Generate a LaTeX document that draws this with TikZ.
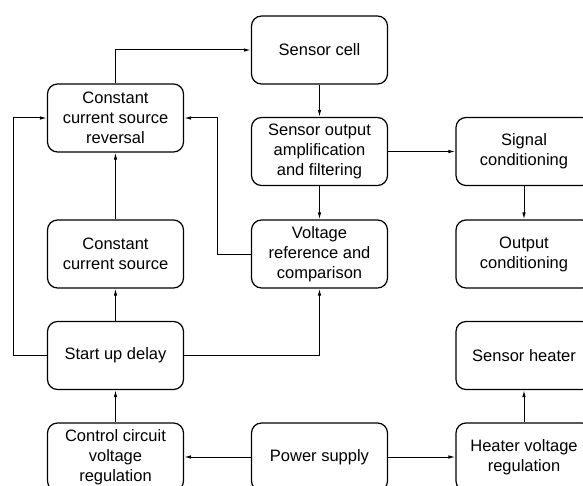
\documentclass[tikz,border=0pt]{standalone}
\usepackage{fontspec}
\setmainfont{Liberation Sans}
\usetikzlibrary{arrows.meta}
\begin{document}
\begin{tikzpicture}[x=1pt,y=-1pt,
  blk/.style={draw,line width=1.2pt,rounded corners=10pt,minimum width=136pt,minimum height=68pt,
    align=center,inner sep=0pt,font=\fontsize{16.5}{20}\selectfont},
  conn/.style={line width=1pt,-{Latex[length=7pt,width=3.5pt]}}]
\useasboundingbox (0,0) rectangle (583,486);
\node[blk] (cell) at (319.5,50) {Sensor cell};
\node[blk] (rev) at (115.5,118) {Constant\\current source\\reversal};
\node[blk] (amp) at (319.5,151.5) {Sensor output\\amplification\\and filtering};
\node[blk] (sig) at (524,151.5) {Signal\\conditioning};
\node[blk] (ccs) at (115.5,254) {Constant\\current source};
\node[blk] (vref) at (319.5,254) {Voltage\\reference and\\comparison};
\node[blk] (out) at (524,254) {Output\\conditioning};
\node[blk] (start) at (115.5,355.5) {Start up delay};
\node[blk] (heat) at (524,355.5) {Sensor heater};
\node[blk] (ctrl) at (115.5,457) {Control circuit\\voltage\\regulation};
\node[blk] (psu) at (319.5,457) {Power supply};
\node[blk] (hvr) at (524,457) {Heater voltage\\regulation};
\coordinate (lx) at (13,0);
\coordinate (mx) at (217,0);
\draw[conn] (rev.north) |- (cell.west);
\draw[conn] (cell.south) -- (amp.north);
\draw[conn] (amp.east) -- (sig.west);
\draw[conn] (amp.south) -- (vref.north);
\draw[conn] (sig.south) -- (out.north);
\draw[conn] (vref.west) -| (mx |- rev.east) -- (rev.east);
\draw[conn] (ccs.north) -- (rev.south);
\draw[conn] (start.north) -- (ccs.south);
\draw[conn] (start.west) -| (lx |- rev.west) -- (rev.west);
\draw[conn] (start.east) -| (vref.south);
\draw[conn] (ctrl.north) -- (start.south);
\draw[conn] (psu.west) -- (ctrl.east);
\draw[conn] (psu.east) -- (hvr.west);
\draw[conn] (hvr.north) -- (heat.south);
\end{tikzpicture}
\end{document}
